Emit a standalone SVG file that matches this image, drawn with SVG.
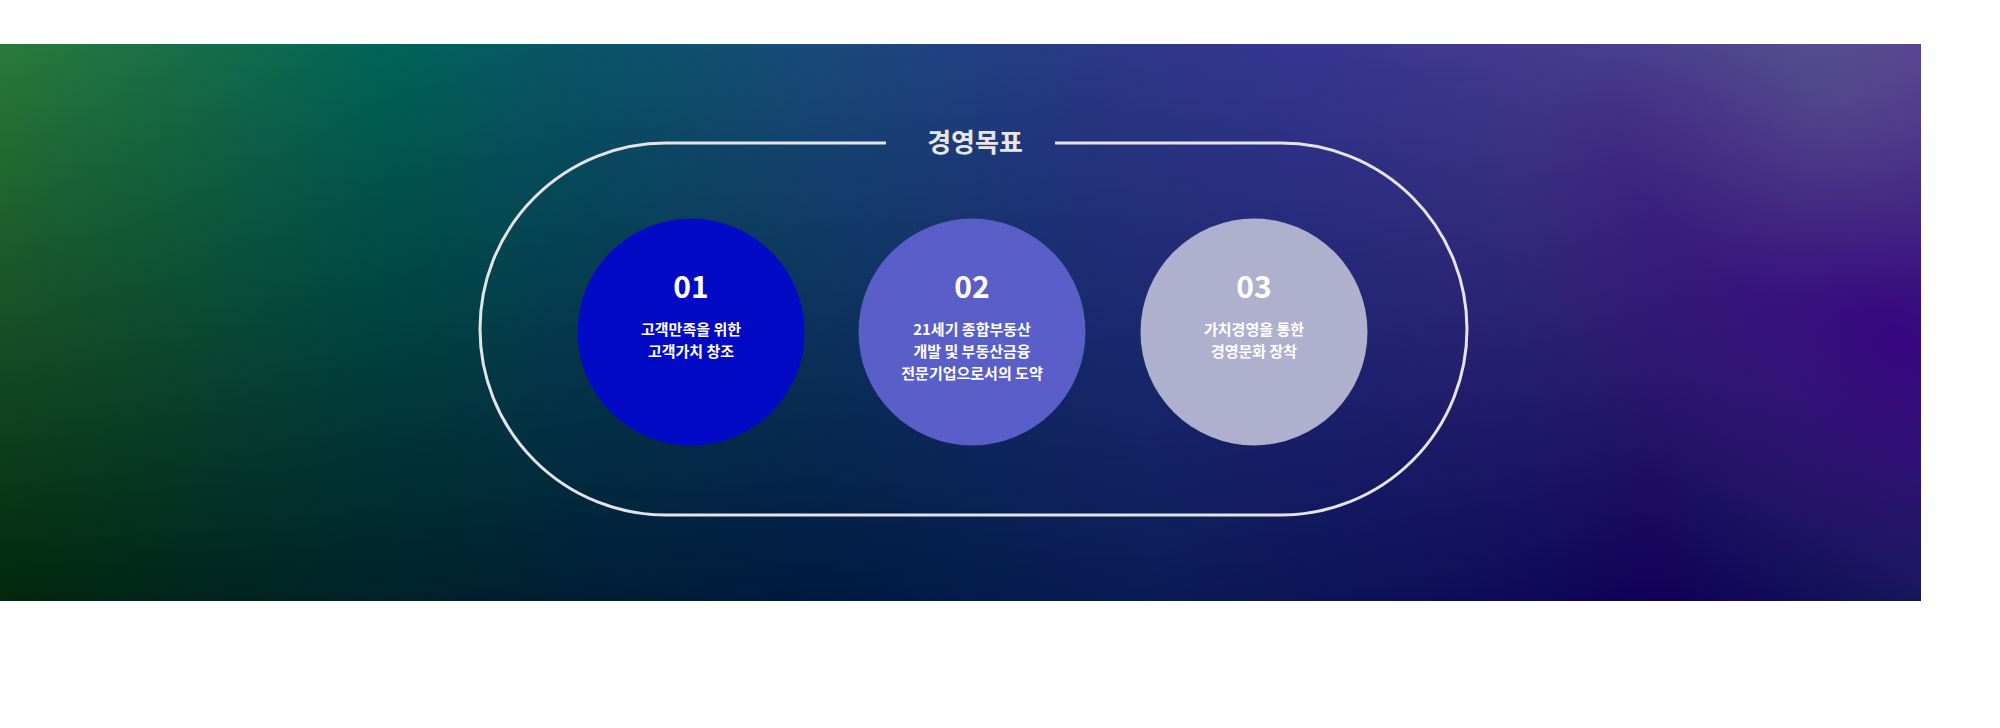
<svg xmlns="http://www.w3.org/2000/svg" width="2000" height="728" viewBox="0 0 2000 728">
  <style>
    .num { font-family: "Noto Sans CJK KR", "Noto Sans", sans-serif; font-weight: 700; font-size: 30px; fill: #ffffff; text-anchor: middle; }
    .lbl { font-family: "Noto Sans CJK KR", "Noto Sans", sans-serif; font-weight: 700; font-size: 15px; fill: #ffffff; text-anchor: middle; }
    .title { font-family: "Noto Sans CJK KR", "Noto Sans", sans-serif; font-weight: 700; font-size: 26px; fill: #e6e6ea; text-anchor: middle; }
    .frame { fill: none; stroke: #e4e4e8; stroke-width: 3; }
  </style>
  <defs>
    <linearGradient id="topRow" x1="0" y1="0" x2="1921" y2="0" gradientUnits="userSpaceOnUse">
      <stop offset="0" stop-color="#2b7a3a"/>
      <stop offset="0.2" stop-color="#006458"/>
      <stop offset="0.31" stop-color="#0a5468"/>
      <stop offset="0.43" stop-color="#194a7a"/>
      <stop offset="0.57" stop-color="#2b3888"/>
      <stop offset="0.68" stop-color="#363690"/>
      <stop offset="0.8" stop-color="#463a8e"/>
      <stop offset="0.94" stop-color="#524a8c"/>
      <stop offset="1" stop-color="#583c92"/>
    </linearGradient>
    <linearGradient id="botRow" x1="0" y1="0" x2="1921" y2="0" gradientUnits="userSpaceOnUse">
      <stop offset="0" stop-color="#02280e"/>
      <stop offset="0.2" stop-color="#01222a"/>
      <stop offset="0.42" stop-color="#001a40"/>
      <stop offset="0.6" stop-color="#0a1c56"/>
      <stop offset="0.78" stop-color="#0f0c58"/>
      <stop offset="0.86" stop-color="#110058"/>
      <stop offset="1" stop-color="#141a58"/>
    </linearGradient>
    <linearGradient id="vmask" x1="0" y1="44" x2="0" y2="601" gradientUnits="userSpaceOnUse">
      <stop offset="0" stop-color="#fff" stop-opacity="1"/>
      <stop offset="1" stop-color="#fff" stop-opacity="0"/>
    </linearGradient>
    <mask id="topMask" maskUnits="userSpaceOnUse" x="0" y="44" width="1921" height="557">
      <rect x="0" y="44" width="1921" height="557" fill="url(#vmask)"/>
    </mask>
    <radialGradient id="purpleGlow" cx="1900" cy="340" r="330" gradientUnits="userSpaceOnUse" gradientTransform="translate(1900 340) rotate(35) scale(1.3 0.75) translate(-1900 -340)">
      <stop offset="0" stop-color="#3a0082" stop-opacity="0.85"/>
      <stop offset="1" stop-color="#3a0082" stop-opacity="0"/>
    </radialGradient>
    <radialGradient id="lightSpot" cx="1840" cy="90" r="220" gradientUnits="userSpaceOnUse">
      <stop offset="0" stop-color="#5a5890" stop-opacity="0.5"/>
      <stop offset="1" stop-color="#5a5890" stop-opacity="0"/>
    </radialGradient>
  </defs>

  <rect x="0" y="0" width="2000" height="728" fill="#ffffff"/>

  <g id="background">
    <rect x="0" y="44" width="1921" height="557" fill="url(#botRow)"/>
    <rect x="0" y="44" width="1921" height="557" fill="url(#topRow)" mask="url(#topMask)"/>
    <rect x="0" y="44" width="1921" height="557" fill="url(#purpleGlow)"/>
    <rect x="0" y="44" width="1921" height="557" fill="url(#lightSpot)"/>
  </g>

  <g id="frame">
    <path class="frame" d="M 886 143 H 666 A 186 186 0 0 0 666 515 H 1281 A 186 186 0 0 0 1281 143 H 1055"/>
    <text class="title" x="975" y="152">경영목표</text>
  </g>

  <g id="goal-01">
    <circle cx="691" cy="332" r="113.5" fill="#030ac6"/>
    <text class="num" x="691" y="298">01</text>
    <text class="lbl" x="691" y="335">고객만족을 위한</text>
    <text class="lbl" x="691" y="357">고객가치 창조</text>
  </g>

  <g id="goal-02">
    <circle cx="972" cy="332" r="113.5" fill="#5a5ec9"/>
    <text class="num" x="972" y="298">02</text>
    <text class="lbl" x="972" y="335">21세기 종합부동산</text>
    <text class="lbl" x="972" y="357">개발 및 부동산금융</text>
    <text class="lbl" x="972" y="379">전문기업으로서의 도약</text>
  </g>

  <g id="goal-03">
    <circle cx="1254" cy="332" r="113.5" fill="#afb0ce"/>
    <text class="num" x="1254" y="298">03</text>
    <text class="lbl" x="1254" y="335">가치경영을 통한</text>
    <text class="lbl" x="1254" y="357">경영문화 장착</text>
  </g>

  <g id="connectors"/>
</svg>
